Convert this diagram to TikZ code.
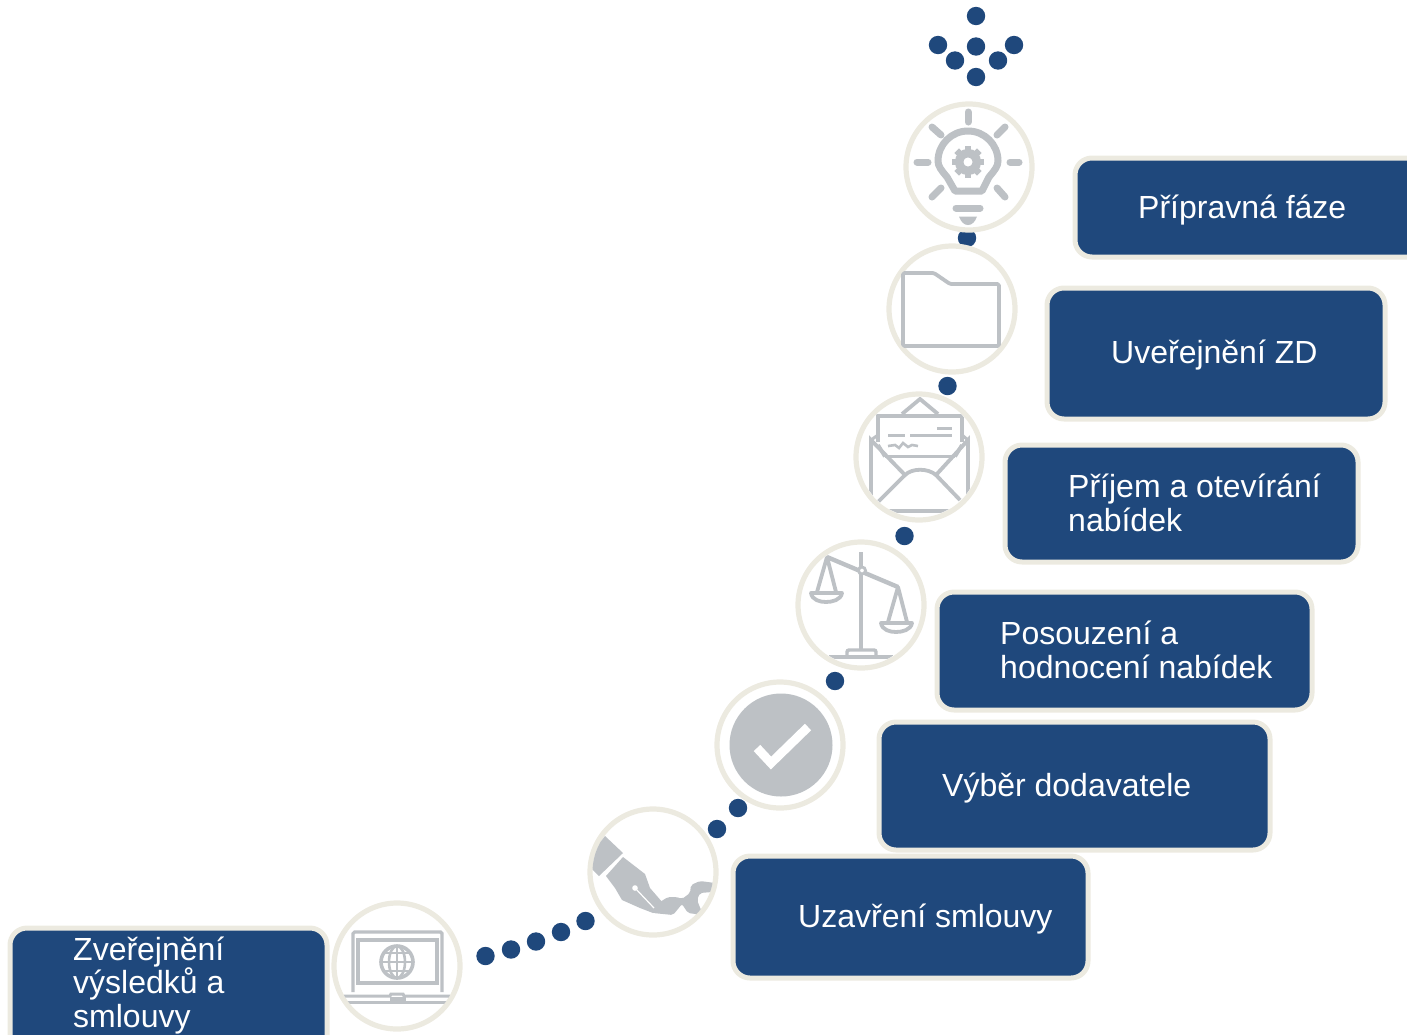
\documentclass[tikz,border=0pt]{standalone}
\usepackage{fontspec}
\setmainfont{Liberation Sans}
\definecolor{navy}{RGB}{31,72,124}
\definecolor{beige}{RGB}{236,234,224}
\definecolor{icongrey}{RGB}{189,193,197}
\tikzset{
  dotmark/.style={circle,fill=navy,draw=none,minimum size=18.4pt,inner sep=0pt},
  ring/.style={circle,draw=beige,fill=white,line width=5.2pt,minimum size=126pt,inner sep=0pt},
  stepbox/.style={draw=beige,fill=navy,line width=5pt,rounded corners=17pt},
  label/.style={text=white,inner sep=0pt,anchor=base west,align=left,font=\fontsize{32}{33.2}\selectfont},
  ic/.style={draw=icongrey,line width=3.8pt,fill=none},
  icf/.style={fill=icongrey,draw=none}
}
\begin{document}
\begin{tikzpicture}[x=1pt,y=-1pt]
\useasboundingbox (0,0) rectangle (1407,1034);
\clip (0,0) rectangle (1407,1034);
% dots
\foreach \n/\px/\py in {a/976/16,b/938/45,c/976/46.5,d/1014/45,e/955/60.5,f/998/60.5,g/976/77,h/967/238,i/947.5/386,j/904.5/536,k/835/681,l/738/808,m/717/829,n/585.5/921,o/561/932,p/536/941.5,q/511/949.5,r/485.5/956}
  \node[dotmark] (dot\n) at (\px,\py) {};
% rings
\node[ring] (c1) at (969,167) {};
\node[ring] (c2) at (952,309) {};
\node[ring] (c3) at (919,457) {};
\node[ring] (c4) at (861,605) {};
\node[ring] (c5) at (780,745) {};
\node[ring] (c6) at (653,872) {};
\node[ring] (c7) at (397,966) {};
% boxes
\path[stepbox] (1075,158) rectangle (1440,257);
\path[stepbox] (1047,288) rectangle (1385,419);
\path[stepbox] (1005,445) rectangle (1358,562);
\path[stepbox] (937,592) rectangle (1312,710);
\path[stepbox] (879,722) rectangle (1270,850);
\path[stepbox] (733,856) rectangle (1088,978);
\path[stepbox] (10,928) rectangle (327,1070);
% labels
\node[label] (t1) at (1138,218) {Přípravná fáze};
\node[label] (t2) at (1111,363) {Uveřejnění ZD};
\node[label] (t3) at (1068,531) {Příjem a otevírání\\nabídek};
\node[label] (t4) at (1000,678) {Posouzení a\\hodnocení nabídek};
\node[label] (t5) at (942,796.5) {Výběr dodavatele};
\node[label] (t6) at (798,927) {Uzavření smlouvy};
\node[label] (t7) at (73,1027) {Zveřejnění\\výsledků a\\smlouvy};
% bulb
\begin{scope}
\draw[ic,line width=7pt,line join=round] (955,191) -- (947,177) .. controls (941,170) and (938,166) .. (938,161) arc[start angle=180,end angle=360,radius=30] .. controls (998,166) and (995,170) .. (989,177) -- (982,191) -- cycle;
\foreach \a in {0,45,...,315}
  \draw[icongrey,line width=6.5pt] (968,162)++(\a:9) -- ++(\a:7);
\draw[icongrey,line width=8.5pt] (968,162) circle[radius=8.8];
\foreach \xa/\ya/\xb/\yb in {968/112/968/122,1010/162/1019/162,917/162/928/162,932/127/941/135,1005/127/997/135,932/197/941/188,1005/197/997/188,956/208/980/208}
  \draw[icongrey,line width=7pt,line cap=round] (\xa,\ya) -- (\xb,\yb);
\fill[icf] (959,216.5) -- (977,216.5) .. controls (975,222) and (972,225) .. (968,225) .. controls (964,225) and (961,222) .. (959,216.5) -- cycle;
\end{scope}
% folder
\draw[ic,line join=round,rounded corners=1.5pt] (903,273) -- (934,273) -- (950,284) -- (999,284) -- (999,346) -- (903,346) -- cycle;
% envelope
\begin{scope}
\clip (919,457) circle[radius=60];
\draw[ic] (902,414) -- (920,399) -- (938,414);
\draw[ic] (878,442) -- (878,416) -- (962,416) -- (962,442);
\draw[ic] (885,456.5) -- (955,456.5);
\draw[ic] (871,505) -- (871,440) -- (905,475) .. controls (912,468) and (928,468) .. (936,475) -- (968,440) -- (968,505);
\draw[ic] (878,445) -- (885,456.5) (962,445) -- (955,456.5);
\draw[ic] (905,475) -- (878,502) (936,475) -- (960,500);
\draw[ic] (880,511) -- (958,511);
\draw[ic,line width=3pt] (937,428) -- (952,428) (888,435) -- (905,435) (910,435) -- (952,435);
\draw[ic,line width=2.6pt] (888,446) -- (895,445) -- (899,448) -- (903,443) -- (908,447) -- (912,445) -- (918,446);
\draw[ic,line width=3pt] (871,440) -- (878,435) (968,440) -- (962,435);
\end{scope}
% scales
\begin{scope}
\clip (861,605) circle[radius=60];
\draw[ic,line width=3.4pt] (861,552) -- (861,650);
\draw[ic] (829,657) -- (893,657);
\draw[ic,line width=3.4pt,rounded corners=2pt] (847,655) -- (847,650) -- (876,650) -- (876,655);
\draw[ic,line width=4.4pt] (827,557) -- (898,587);
\draw[icongrey,fill=white,line width=2.8pt] (862,570.5) circle[radius=3.5];
\draw[ic,line join=round] (817,592) -- (827,557) -- (836,592);
\draw[ic,line join=round] (888,622) -- (898,587) -- (907,622);
\draw[ic,line join=round] (811,593) -- (842,593) .. controls (841,600) and (832,602) .. (826,602) .. controls (820,602) and (812,600) .. (811,593) -- cycle;
\draw[ic,line join=round] (881,623) -- (912,623) .. controls (911,630) and (902,632) .. (896,632) .. controls (890,632) and (882,630) .. (881,623) -- cycle;
\end{scope}
% check
\fill[icf] (781,745) circle[radius=51.5];
\draw[white,line width=9pt] (757,748) -- (771,763) -- (808,727);
% pen
\begin{scope}
\clip (653,872) circle[radius=60.5];
\fill[icf] (605,836) -- (623,853) -- (599,876) -- (585,862) -- cycle;
\fill[icf] (606,876) -- (623,857) -- (645,874) -- (650,888) -- (663,903) -- (665,912) -- (653,913) -- (640,908) -- (622,900) -- (615,888) -- cycle;
\fill[icf,rounded corners=2pt] (660,902) -- (668,897) -- (677,897) -- (682,899) -- (690,893) -- (691,885) -- (700,881) -- (715,883) -- (712,892) -- (700,893) -- (697,900) -- (703,915) -- (688,913) -- (682,904) -- (673,915) -- (653,913) -- cycle;
\draw[white,line width=1.2pt] (635,888) -- (654,908);
\fill[white] (635,888) circle[radius=2.8];
\end{scope}
% laptop
\begin{scope}
\clip (397,966) circle[radius=60.5];
\draw[ic,line width=3.2pt,rounded corners=1.5pt] (353,992) -- (353,932) -- (442,932) -- (442,992);
\draw[ic,line width=3.8pt] (358,940) rectangle (437,983);
\draw[ic,line width=3.6pt] (397,962) circle[radius=16];
\draw[ic,line width=2.6pt] (397,946) -- (397,978) (381,962) -- (413,962);
\draw[ic,line width=2.6pt] (397,962) ellipse[x radius=8,y radius=16];
\draw[ic,line width=2.4pt] (384,953) -- (410,953) (384,971) -- (410,971);
\draw[ic,line width=3pt] (344,996) -- (390,996) -- (391,994) -- (403,994) -- (404,996) -- (450,996);
\draw[ic,line width=3pt] (344,1002) -- (450,1002);
\fill[icf] (390,997) rectangle (406,1003);
\end{scope}
\end{tikzpicture}
\end{document}
